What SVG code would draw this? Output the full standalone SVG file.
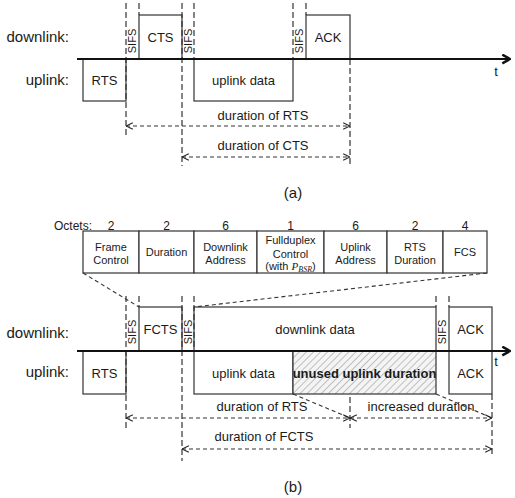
<svg xmlns="http://www.w3.org/2000/svg" width="515" height="498" viewBox="0 0 515 498">
<defs>
<style>
text{font-family:"Liberation Sans",Arial,sans-serif;fill:#1a1a1a}
.lbl{font-size:15px;text-anchor:end}
.bx{fill:#fff;stroke:#333;stroke-width:1.2}
.bt{font-size:13px;text-anchor:middle}
.sifs{font-size:11px;text-anchor:middle}
.tb{font-size:11px;text-anchor:middle}
.oc{font-size:12px;text-anchor:middle}
.dv{fill:none;stroke:#333;stroke-width:1.2;stroke-dasharray:6 3}
.da{fill:none;stroke:#333;stroke-width:1.1;stroke-dasharray:4 3}
.tl{fill:none;stroke:#111;stroke-width:2.2}
.dur{font-size:13px;text-anchor:middle}
.cap{font-size:15px;text-anchor:middle}
</style>
<marker id="ah" viewBox="0 0 10 10" refX="9.5" refY="5" markerWidth="8" markerHeight="8" markerUnits="userSpaceOnUse" orient="auto-start-reverse">
<path d="M1,1 L9.5,5 L1,9" fill="none" stroke="#222" stroke-width="1.4"/>
</marker>
<marker id="tah" viewBox="0 0 10 10" refX="9" refY="5" markerWidth="11" markerHeight="11" markerUnits="userSpaceOnUse" orient="auto">
<path d="M2,1 L9,5 L2,9" fill="none" stroke="#111" stroke-width="2.2"/>
</marker>
<pattern id="hatch" width="5" height="5" patternUnits="userSpaceOnUse" patternTransform="rotate(45)">
<rect width="5" height="5" fill="#f4f4f4"/>
<line x1="0" y1="0" x2="0" y2="5" stroke="#9a9a9a" stroke-width="1.2"/>
</pattern>
</defs>
<rect width="515" height="498" fill="#fff"/>

<!-- Part (a) -->
<g id="a-labels">
<text class="lbl" x="69" y="42">downlink:</text>
<text class="lbl" x="69" y="85">uplink:</text>
<text x="496" y="76" font-size="13" text-anchor="middle">t</text>
</g>
<g id="a-rts"><rect class="bx" x="83" y="59" width="43" height="42"/><text class="bt" x="104.5" y="84.5">RTS</text></g>
<g id="a-cts"><rect class="bx" x="139" y="15" width="43" height="44"/><text class="bt" x="160.5" y="41.5">CTS</text></g>
<g id="a-uldata"><rect class="bx" x="194" y="59" width="99" height="42"/><text class="bt" x="243.5" y="84.5">uplink data</text></g>
<g id="a-ack"><rect class="bx" x="306" y="15" width="44" height="44"/><text class="bt" x="328" y="41.5">ACK</text></g>
<g id="a-sifs">
<text class="sifs" transform="translate(132.5,41) rotate(-90)" dy="0.36em">SIFS</text>
<text class="sifs" transform="translate(188,41) rotate(-90)" dy="0.36em">SIFS</text>
<text class="sifs" transform="translate(299.5,41) rotate(-90)" dy="0.36em">SIFS</text>
</g>
<g id="a-connectors">
<line class="dv" x1="126" y1="3" x2="126" y2="138"/>
<line class="dv" x1="139" y1="3" x2="139" y2="15"/>
<line class="dv" x1="182" y1="3" x2="182" y2="166"/>
<line class="dv" x1="194" y1="3" x2="194" y2="59"/>
<line class="dv" x1="293" y1="3" x2="293" y2="59"/>
<line class="dv" x1="306" y1="3" x2="306" y2="15"/>
<line class="dv" x1="350" y1="59" x2="350" y2="166"/>
<line class="tl" x1="77" y1="59" x2="510" y2="59" marker-end="url(#tah)"/>
<line class="da" x1="126" y1="126" x2="350" y2="126" marker-start="url(#ah)" marker-end="url(#ah)"/>
<line class="da" x1="182" y1="157" x2="350" y2="157" marker-start="url(#ah)" marker-end="url(#ah)"/>
</g>
<g id="a-durations">
<text class="dur" x="263" y="119.5">duration of RTS</text>
<text class="dur" x="263" y="149.5">duration of CTS</text>
</g>
<text class="cap" x="293" y="198">(a)</text>

<!-- Part (b) frame format -->
<g id="b-octets">
<text x="92" y="229.5" font-size="12" text-anchor="end">Octets:</text>
<text class="oc" x="111" y="229.5">2</text>
<text class="oc" x="166.5" y="229.5">2</text>
<text class="oc" x="225.5" y="229.5">6</text>
<text class="oc" x="290.5" y="229.5">1</text>
<text class="oc" x="355.5" y="229.5">6</text>
<text class="oc" x="415" y="229.5">2</text>
<text class="oc" x="465" y="229.5">4</text>
</g>
<g id="b-frame">
<rect class="bx" x="83" y="231" width="56" height="42"/>
<text class="tb" x="111" y="251">Frame</text><text class="tb" x="111" y="264">Control</text>
<rect class="bx" x="139" y="231" width="55" height="42"/>
<text class="tb" x="166.5" y="256">Duration</text>
<rect class="bx" x="194" y="231" width="63" height="42"/>
<text class="tb" x="225.5" y="251">Downlink</text><text class="tb" x="225.5" y="264">Address</text>
<rect class="bx" x="257" y="231" width="67" height="42"/>
<text class="tb" x="290.5" y="244">Fullduplex</text><text class="tb" x="290.5" y="257.5">Control</text>
<text class="tb" x="290.5" y="270">(with <tspan font-family="Liberation Serif" font-style="italic">P</tspan><tspan font-family="Liberation Serif" font-style="italic" font-size="8" dy="2">BSR</tspan><tspan dy="-2">)</tspan></text>
<rect class="bx" x="324" y="231" width="63" height="42"/>
<text class="tb" x="355.5" y="251">Uplink</text><text class="tb" x="355.5" y="264">Address</text>
<rect class="bx" x="387" y="231" width="56" height="42"/>
<text class="tb" x="415" y="251">RTS</text><text class="tb" x="415" y="264">Duration</text>
<rect class="bx" x="443" y="231" width="44" height="42"/>
<text class="tb" x="465" y="256">FCS</text>
</g>

<!-- Part (b) timeline -->
<g id="b-labels">
<text class="lbl" x="69" y="338">downlink:</text>
<text class="lbl" x="69" y="377">uplink:</text>
<text x="496" y="366" font-size="13" text-anchor="middle">t</text>
</g>
<g id="b-rts"><rect class="bx" x="83" y="351" width="43" height="43"/><text class="bt" x="104.5" y="377.5">RTS</text></g>
<g id="b-fcts"><rect class="bx" x="139" y="307" width="43" height="44"/><text class="bt" x="160.5" y="333.5">FCTS</text></g>
<g id="b-dldata"><rect class="bx" x="194" y="307" width="242" height="44"/><text class="bt" x="315" y="334">downlink data</text></g>
<g id="b-uldata"><rect class="bx" x="194" y="351" width="99" height="43"/><text class="bt" x="243.5" y="377.5">uplink data</text></g>
<g id="b-unused"><rect x="293" y="351" width="143" height="43" fill="url(#hatch)" stroke="#333" stroke-width="1.2"/><text class="bt" x="364.5" y="377.5" font-weight="bold" font-size="11.8">unused uplink duration</text></g>
<g id="b-ack-dl"><rect class="bx" x="449" y="307" width="43" height="44"/><text class="bt" x="470.5" y="333.5">ACK</text></g>
<g id="b-ack-ul"><rect class="bx" x="449" y="351" width="43" height="43"/><text class="bt" x="470.5" y="377.5">ACK</text></g>
<g id="b-sifs">
<text class="sifs" transform="translate(132.5,332) rotate(-90)" dy="0.36em">SIFS</text>
<text class="sifs" transform="translate(188,332) rotate(-90)" dy="0.36em">SIFS</text>
<text class="sifs" transform="translate(442.5,332) rotate(-90)" dy="0.36em">SIFS</text>
</g>
<g id="b-connectors">
<line class="da" x1="83" y1="273" x2="139" y2="307"/>
<line class="da" x1="487" y1="273" x2="194" y2="307"/>
<line class="dv" x1="126" y1="296" x2="126" y2="430"/>
<line class="dv" x1="139" y1="296" x2="139" y2="307"/>
<line class="dv" x1="182" y1="296" x2="182" y2="461"/>
<line class="dv" x1="194" y1="296" x2="194" y2="351"/>
<line class="dv" x1="436" y1="296" x2="436" y2="307"/>
<line class="dv" x1="449" y1="296" x2="449" y2="307"/>
<line class="dv" x1="350" y1="397" x2="350" y2="428"/>
<line class="dv" x1="492" y1="394" x2="492" y2="456"/>
<line class="tl" x1="77" y1="351" x2="510" y2="351" marker-end="url(#tah)"/>
<line class="da" x1="293" y1="394" x2="350" y2="418"/>
<line class="da" x1="436" y1="394" x2="492" y2="418"/>
<line class="da" x1="126" y1="418" x2="350" y2="418" marker-start="url(#ah)" marker-end="url(#ah)"/>
<line class="da" x1="350" y1="418" x2="492" y2="418" marker-start="url(#ah)" marker-end="url(#ah)"/>
<line class="da" x1="182" y1="449" x2="492" y2="449" marker-start="url(#ah)" marker-end="url(#ah)"/>
</g>
<g id="b-durations">
<text class="dur" x="262" y="410.5">duration of RTS</text>
<text class="dur" x="421" y="410.5">increased duration</text>
<text class="dur" x="264" y="440.5">duration of FCTS</text>
</g>
<text class="cap" x="293" y="492">(b)</text>
</svg>
